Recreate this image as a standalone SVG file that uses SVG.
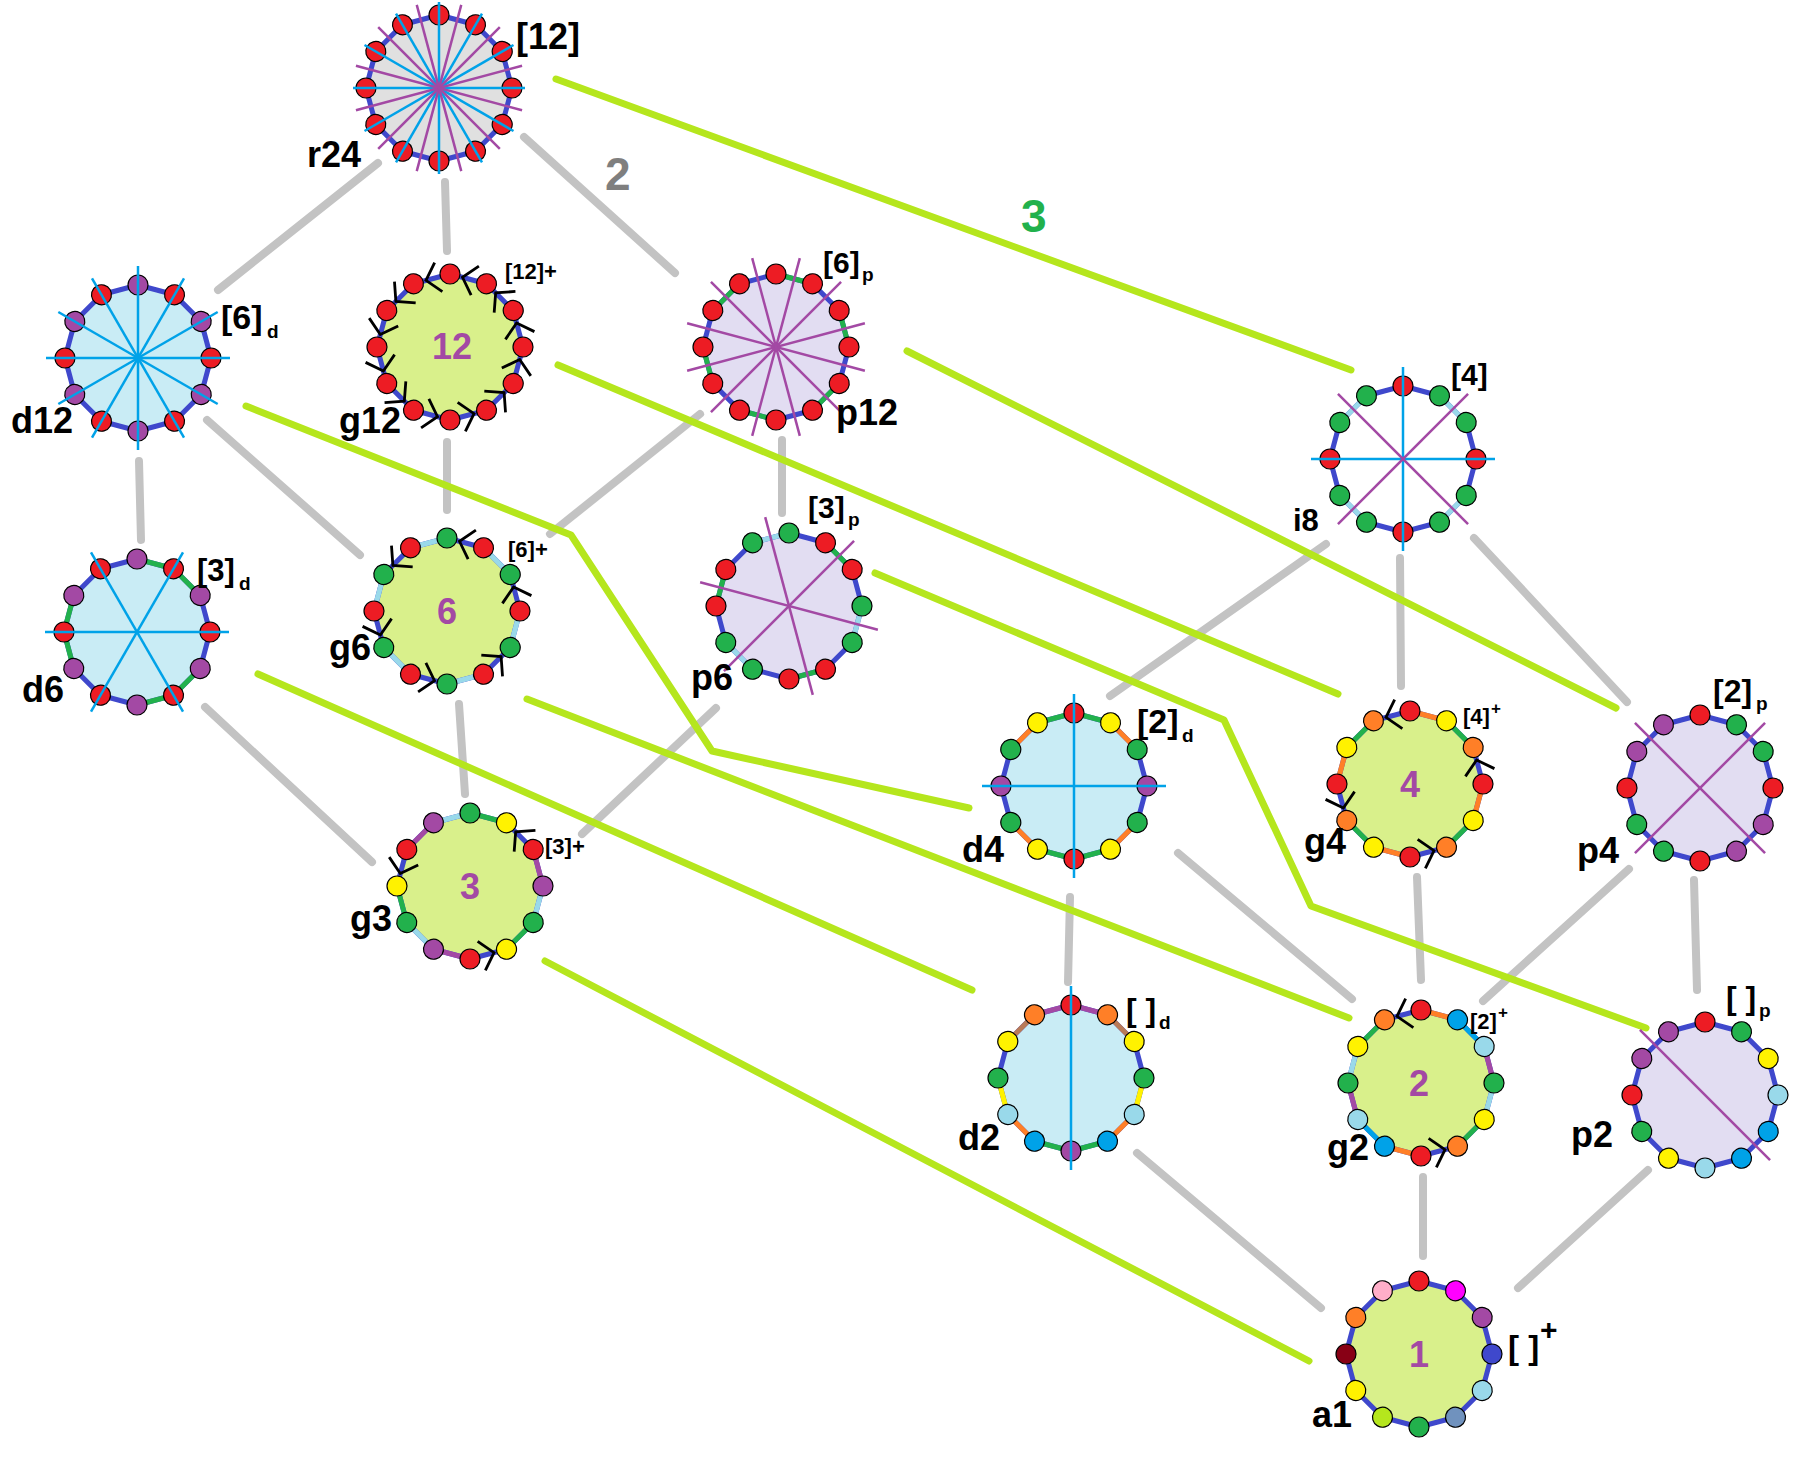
<svg xmlns="http://www.w3.org/2000/svg" width="1796" height="1464" viewBox="0 0 1796 1464">
<style>
text{font-family:"Liberation Sans",Arial,sans-serif;font-weight:bold;fill:#000}
.t{font-size:36px}.tb{font-size:34px}.tc{font-size:31px}.ts{font-size:19px}.tp{font-size:22px}.tq{font-size:17px}
.tn{font-size:36px;fill:#a349a4;text-anchor:middle}
.pl{stroke:#3f48cc;stroke-width:5;stroke-linejoin:round}
.fd{fill:#c9ecf5}.fg{fill:#d9f08b}.fp{fill:#e2ddf2}.fr{fill:#e0e0e0}.fn{fill:none}
.eG{stroke:#22b14c}.eL{stroke:#99d9ea}.eO{stroke:#ff7f27}.eP{stroke:#a349a4}.eY{stroke:#fff200}.eS{stroke:#00a2e8}.eN{stroke:#b97a57}
.dR{fill:#ed1c24}.dP{fill:#a349a4}.dG{fill:#22b14c}.dY{fill:#fff200}.dO{fill:#ff7f27}.dL{fill:#99d9ea}.dS{fill:#00a2e8}.dI{fill:#3f48cc}.dM{fill:#ff00ff}.dT{fill:#7092be}.dK{fill:#b5e61d}.dD{fill:#880015}.dW{fill:#ffaec9}
.mc{stroke:#00a2e8;stroke-width:2.5}.mp{stroke:#a349a4;stroke-width:2.5}
.cg{stroke:#c3c3c3;stroke-width:8;stroke-linecap:round;fill:none}
.cl{stroke:#b5e61d;stroke-width:7;stroke-linecap:round;stroke-linejoin:round;fill:none}
</style>
<defs>
<polygon id="pg" points="0,-73 36.5,-63.22 63.22,-36.5 73,0 63.22,36.5 36.5,63.22 0,73 -36.5,63.22 -63.22,36.5 -73,0 -63.22,-36.5 -36.5,-63.22"/>
<circle id="dt" cx="0" cy="-73" r="10" stroke="#000" stroke-width="1.2"/>
<line id="ed" x1="0" y1="-73" x2="36.5" y2="-63.22" stroke-width="5"/>
<line id="mL" x1="0" y1="-92" x2="0" y2="92"/>
<line id="mS" x1="0" y1="-86" x2="0" y2="86"/>
<path id="ch" d="M28.9,-80.8 L12.5,-69.7 L21.1,-51.8" fill="none" stroke="#000" stroke-width="2.8"/>
<g id="dE"><use href="#dt"/><use href="#dt" transform="rotate(60)"/><use href="#dt" transform="rotate(120)"/><use href="#dt" transform="rotate(180)"/><use href="#dt" transform="rotate(240)"/><use href="#dt" transform="rotate(300)"/></g>
<g id="dO"><use href="#dt" transform="rotate(30)"/><use href="#dt" transform="rotate(90)"/><use href="#dt" transform="rotate(150)"/><use href="#dt" transform="rotate(210)"/><use href="#dt" transform="rotate(270)"/><use href="#dt" transform="rotate(330)"/></g>
<g id="dA"><use href="#dE"/><use href="#dO"/></g>
<g id="eE"><use href="#ed"/><use href="#ed" transform="rotate(60)"/><use href="#ed" transform="rotate(120)"/><use href="#ed" transform="rotate(180)"/><use href="#ed" transform="rotate(240)"/><use href="#ed" transform="rotate(300)"/></g>
<g id="eOd"><use href="#ed" transform="rotate(30)"/><use href="#ed" transform="rotate(90)"/><use href="#ed" transform="rotate(150)"/><use href="#ed" transform="rotate(210)"/><use href="#ed" transform="rotate(270)"/><use href="#ed" transform="rotate(330)"/></g>
<g id="chE"><use href="#ch"/><use href="#ch" transform="rotate(60)"/><use href="#ch" transform="rotate(120)"/><use href="#ch" transform="rotate(180)"/><use href="#ch" transform="rotate(240)"/><use href="#ch" transform="rotate(300)"/></g>
<g id="chO"><use href="#ch" transform="rotate(30)"/><use href="#ch" transform="rotate(90)"/><use href="#ch" transform="rotate(150)"/><use href="#ch" transform="rotate(210)"/><use href="#ch" transform="rotate(270)"/><use href="#ch" transform="rotate(330)"/></g>
<g id="vL"><use href="#mL"/><use href="#mL" transform="rotate(30)"/><use href="#mL" transform="rotate(60)"/><use href="#mL" transform="rotate(90)"/><use href="#mL" transform="rotate(120)"/><use href="#mL" transform="rotate(150)"/></g>
<g id="hL"><use href="#mL" transform="rotate(15)"/><use href="#mL" transform="rotate(45)"/><use href="#mL" transform="rotate(75)"/><use href="#mL" transform="rotate(105)"/><use href="#mL" transform="rotate(135)"/><use href="#mL" transform="rotate(165)"/></g>
</defs>
<rect width="1796" height="1464" fill="#fff"/>

<g id="connectors">
<line class="cg" x1="378" y1="163" x2="218" y2="290"/>
<line class="cg" x1="445" y1="182" x2="447" y2="251"/>
<line class="cg" x1="524" y1="137" x2="675" y2="273"/>
<line class="cg" x1="139" y1="461" x2="141" y2="540"/>
<line class="cg" x1="207" y1="420" x2="360" y2="555"/>
<line class="cg" x1="447" y1="442" x2="447" y2="510"/>
<line class="cg" x1="700" y1="414" x2="550" y2="534"/>
<line class="cg" x1="782" y1="440" x2="782" y2="513"/>
<line class="cg" x1="1326" y1="544" x2="1110" y2="696"/>
<line class="cg" x1="1400" y1="558" x2="1401" y2="686"/>
<line class="cg" x1="1474" y1="538" x2="1627" y2="702"/>
<line class="cg" x1="205" y1="707" x2="372" y2="862"/>
<line class="cg" x1="459" y1="704" x2="465" y2="794"/>
<line class="cg" x1="716" y1="708" x2="582" y2="834"/>
<line class="cg" x1="1070" y1="897" x2="1068" y2="982"/>
<line class="cg" x1="1178" y1="853" x2="1352" y2="999"/>
<line class="cg" x1="1417" y1="877" x2="1421" y2="980"/>
<line class="cg" x1="1629" y1="869" x2="1483" y2="1001"/>
<line class="cg" x1="1694" y1="880" x2="1697" y2="990"/>
<line class="cg" x1="1137" y1="1153" x2="1321" y2="1308"/>
<line class="cg" x1="1423" y1="1177" x2="1423" y2="1256"/>
<line class="cg" x1="1648" y1="1170" x2="1518" y2="1288"/>
<polyline class="cl" points="556,79 1351,370"/>
<polyline class="cl" points="246,406 571,535 712,751 969,808"/>
<polyline class="cl" points="558,365 1338,694"/>
<polyline class="cl" points="907,351 1616,708"/>
<polyline class="cl" points="875,573 1224,720 1311,906 1646,1028"/>
<polyline class="cl" points="258,674 972,990"/>
<polyline class="cl" points="527,699 1349,1018"/>
<polyline class="cl" points="545,961 1309,1361"/>
<text x="605" y="190" style="font-size:46px;fill:#7f7f7f">2</text>
<text x="1021" y="232" style="font-size:46px;fill:#22b14c">3</text>
</g>

<g id="r24">
<g transform="translate(439,88)">
<use href="#pg" class="pl fr"/>
<use href="#dA" class="dR"/>
<use href="#mS" class="mc"/><use href="#mS" class="mc" transform="rotate(30)"/><use href="#mS" class="mc" transform="rotate(60)"/><use href="#mS" class="mc" transform="rotate(90)"/><use href="#mS" class="mc" transform="rotate(120)"/><use href="#mS" class="mc" transform="rotate(150)"/>
<use href="#mS" class="mp" transform="rotate(15)"/><use href="#mS" class="mp" transform="rotate(45)"/><use href="#mS" class="mp" transform="rotate(75)"/><use href="#mS" class="mp" transform="rotate(105)"/><use href="#mS" class="mp" transform="rotate(135)"/><use href="#mS" class="mp" transform="rotate(165)"/>
</g>
<text class="t" x="516" y="49">[12]</text>
<text class="t" x="307" y="167">r24</text>
</g>

<g id="d12">
<g transform="translate(138,358)">
<use href="#pg" class="pl fd"/>
<use href="#dE" class="dP"/><use href="#dO" class="dR"/>
<use href="#vL" class="mc"/>
</g>
<text class="tb" x="221" y="329">[6]</text><text class="ts" x="267" y="338">d</text>
<text class="t" x="11" y="433">d12</text>
</g>

<g id="g12">
<g transform="translate(450,347)">
<use href="#pg" class="pl fg"/>
<use href="#chE"/><use href="#chO"/>
<use href="#dA" class="dR"/>
</g>
<text class="tp" x="505" y="279">[12]+</text>
<text class="tn" x="452" y="359">12</text>
<text class="t" x="339" y="433">g12</text>
</g>

<g id="p12">
<g transform="translate(776,347)">
<use href="#pg" class="pl fp"/>
<use href="#eE" class="eG"/>
<use href="#dA" class="dR"/>
<use href="#hL" class="mp"/>
</g>
<text class="tc" x="823" y="273" style="font-size:30px">[6]</text><text class="ts" x="862" y="281">p</text>
<text class="t" x="836" y="425">p12</text>
</g>

<g id="i8">
<g transform="translate(1403,459)">
<use href="#pg" class="pl fn"/>
<use href="#ed" class="eL" transform="rotate(30)"/><use href="#ed" class="eL" transform="rotate(120)"/><use href="#ed" class="eL" transform="rotate(210)"/><use href="#ed" class="eL" transform="rotate(300)"/>
<use href="#dt" class="dR"/><use href="#dt" class="dR" transform="rotate(90)"/><use href="#dt" class="dR" transform="rotate(180)"/><use href="#dt" class="dR" transform="rotate(270)"/>
<use href="#dt" class="dG" transform="rotate(30)"/><use href="#dt" class="dG" transform="rotate(60)"/><use href="#dt" class="dG" transform="rotate(120)"/><use href="#dt" class="dG" transform="rotate(150)"/><use href="#dt" class="dG" transform="rotate(210)"/><use href="#dt" class="dG" transform="rotate(240)"/><use href="#dt" class="dG" transform="rotate(300)"/><use href="#dt" class="dG" transform="rotate(330)"/>
<use href="#mL" class="mc"/><use href="#mL" class="mc" transform="rotate(90)"/>
<use href="#mL" class="mp" transform="rotate(45)"/><use href="#mL" class="mp" transform="rotate(135)"/>
</g>
<text class="tc" x="1451" y="385" style="font-size:30px">[4]</text>
<text class="t" x="1293" y="531" style="font-size:31px">i8</text>
</g>

<g id="d6">
<g transform="translate(137,632)">
<use href="#pg" class="pl fd"/>
<use href="#ed" class="eG"/><use href="#ed" class="eG" transform="rotate(30)"/><use href="#ed" class="eG" transform="rotate(120)"/><use href="#ed" class="eG" transform="rotate(150)"/><use href="#ed" class="eG" transform="rotate(240)"/><use href="#ed" class="eG" transform="rotate(270)"/>
<use href="#dE" class="dP"/><use href="#dO" class="dR"/>
<use href="#mL" class="mc" transform="rotate(30)"/><use href="#mL" class="mc" transform="rotate(90)"/><use href="#mL" class="mc" transform="rotate(150)"/>
</g>
<text class="tc" x="197" y="581">[3]</text><text class="ts" x="239" y="590">d</text>
<text class="t" x="22" y="702">d6</text>
</g>

<g id="g6">
<g transform="translate(447,611)">
<use href="#pg" class="pl fg"/>
<use href="#eOd" class="eL"/>
<use href="#chE"/>
<use href="#dE" class="dG"/><use href="#dO" class="dR"/>
</g>
<text class="tp" x="508" y="557">[6]+</text>
<text class="tn" x="447" y="624">6</text>
<text class="t" x="329" y="660">g6</text>
</g>

<g id="p6">
<g transform="translate(789,606)">
<use href="#pg" class="pl fp"/>
<use href="#ed" class="eG" transform="rotate(30)"/><use href="#ed" class="eG" transform="rotate(150)"/><use href="#ed" class="eG" transform="rotate(270)"/>
<use href="#ed" class="eL" transform="rotate(90)"/><use href="#ed" class="eL" transform="rotate(210)"/><use href="#ed" class="eL" transform="rotate(330)"/>
<use href="#dt" class="dG"/><use href="#dt" class="dG" transform="rotate(90)"/><use href="#dt" class="dG" transform="rotate(120)"/><use href="#dt" class="dG" transform="rotate(210)"/><use href="#dt" class="dG" transform="rotate(240)"/><use href="#dt" class="dG" transform="rotate(330)"/>
<use href="#dt" class="dR" transform="rotate(30)"/><use href="#dt" class="dR" transform="rotate(60)"/><use href="#dt" class="dR" transform="rotate(150)"/><use href="#dt" class="dR" transform="rotate(180)"/><use href="#dt" class="dR" transform="rotate(270)"/><use href="#dt" class="dR" transform="rotate(300)"/>
<use href="#mL" class="mp" transform="rotate(-15)"/><use href="#mL" class="mp" transform="rotate(45)"/><use href="#mL" class="mp" transform="rotate(105)"/>
</g>
<text class="tc" x="808" y="518" style="font-size:30px">[3]</text><text class="ts" x="848" y="526">p</text>
<text class="t" x="691" y="690">p6</text>
</g>

<g id="g3">
<g transform="translate(470,886)">
<use href="#pg" class="pl fg"/>
<use href="#ed" class="eG"/><use href="#ed" class="eG" transform="rotate(120)"/><use href="#ed" class="eG" transform="rotate(240)"/>
<use href="#ed" class="eP" transform="rotate(60)"/><use href="#ed" class="eP" transform="rotate(180)"/><use href="#ed" class="eP" transform="rotate(300)"/>
<use href="#ed" class="eL" transform="rotate(90)"/><use href="#ed" class="eL" transform="rotate(210)"/><use href="#ed" class="eL" transform="rotate(330)"/>
<use href="#ch" transform="rotate(30)"/><use href="#ch" transform="rotate(150)"/><use href="#ch" transform="rotate(270)"/>
<use href="#dt" class="dG"/><use href="#dt" class="dG" transform="rotate(120)"/><use href="#dt" class="dG" transform="rotate(240)"/>
<use href="#dt" class="dY" transform="rotate(30)"/><use href="#dt" class="dY" transform="rotate(150)"/><use href="#dt" class="dY" transform="rotate(270)"/>
<use href="#dt" class="dR" transform="rotate(60)"/><use href="#dt" class="dR" transform="rotate(180)"/><use href="#dt" class="dR" transform="rotate(300)"/>
<use href="#dt" class="dP" transform="rotate(90)"/><use href="#dt" class="dP" transform="rotate(210)"/><use href="#dt" class="dP" transform="rotate(330)"/>
</g>
<text class="tp" x="545" y="854">[3]+</text>
<text class="tn" x="470" y="899">3</text>
<text class="t" x="350" y="931">g3</text>
</g>

<g id="d4">
<g transform="translate(1074,786)">
<use href="#pg" class="pl fd"/>
<use href="#ed" class="eG"/><use href="#ed" class="eG" transform="rotate(150)"/><use href="#ed" class="eG" transform="rotate(180)"/><use href="#ed" class="eG" transform="rotate(330)"/>
<use href="#ed" class="eO" transform="rotate(30)"/><use href="#ed" class="eO" transform="rotate(120)"/><use href="#ed" class="eO" transform="rotate(210)"/><use href="#ed" class="eO" transform="rotate(300)"/>
<use href="#dt" class="dR"/><use href="#dt" class="dR" transform="rotate(180)"/>
<use href="#dt" class="dY" transform="rotate(30)"/><use href="#dt" class="dY" transform="rotate(150)"/><use href="#dt" class="dY" transform="rotate(210)"/><use href="#dt" class="dY" transform="rotate(330)"/>
<use href="#dt" class="dG" transform="rotate(60)"/><use href="#dt" class="dG" transform="rotate(120)"/><use href="#dt" class="dG" transform="rotate(240)"/><use href="#dt" class="dG" transform="rotate(300)"/>
<use href="#dt" class="dP" transform="rotate(90)"/><use href="#dt" class="dP" transform="rotate(270)"/>
<use href="#mL" class="mc"/><use href="#mL" class="mc" transform="rotate(90)"/>
</g>
<text class="tb" x="1137" y="733">[2]</text><text class="ts" x="1182" y="742">d</text>
<text class="t" x="962" y="862">d4</text>
</g>

<g id="g4">
<g transform="translate(1410,784)">
<use href="#pg" class="pl fg"/>
<use href="#ed" class="eO"/><use href="#ed" class="eO" transform="rotate(90)"/><use href="#ed" class="eO" transform="rotate(180)"/><use href="#ed" class="eO" transform="rotate(270)"/>
<use href="#ed" class="eG" transform="rotate(30)"/><use href="#ed" class="eG" transform="rotate(120)"/><use href="#ed" class="eG" transform="rotate(210)"/><use href="#ed" class="eG" transform="rotate(300)"/>
<use href="#ch" transform="rotate(60)"/><use href="#ch" transform="rotate(150)"/><use href="#ch" transform="rotate(240)"/><use href="#ch" transform="rotate(330)"/>
<use href="#dt" class="dR"/><use href="#dt" class="dR" transform="rotate(90)"/><use href="#dt" class="dR" transform="rotate(180)"/><use href="#dt" class="dR" transform="rotate(270)"/>
<use href="#dt" class="dY" transform="rotate(30)"/><use href="#dt" class="dY" transform="rotate(120)"/><use href="#dt" class="dY" transform="rotate(210)"/><use href="#dt" class="dY" transform="rotate(300)"/>
<use href="#dt" class="dO" transform="rotate(60)"/><use href="#dt" class="dO" transform="rotate(150)"/><use href="#dt" class="dO" transform="rotate(240)"/><use href="#dt" class="dO" transform="rotate(330)"/>
</g>
<text class="tp" x="1463" y="724">[4]</text><text class="tq" x="1491" y="714">+</text>
<text class="tn" x="1410" y="797">4</text>
<text class="t" x="1304" y="854">g4</text>
</g>

<g id="p4">
<g transform="translate(1700,788)">
<use href="#pg" class="pl fp"/>
<use href="#dt" class="dR"/><use href="#dt" class="dR" transform="rotate(90)"/><use href="#dt" class="dR" transform="rotate(180)"/><use href="#dt" class="dR" transform="rotate(270)"/>
<use href="#dt" class="dG" transform="rotate(30)"/><use href="#dt" class="dG" transform="rotate(60)"/><use href="#dt" class="dG" transform="rotate(210)"/><use href="#dt" class="dG" transform="rotate(240)"/>
<use href="#dt" class="dP" transform="rotate(120)"/><use href="#dt" class="dP" transform="rotate(150)"/><use href="#dt" class="dP" transform="rotate(300)"/><use href="#dt" class="dP" transform="rotate(330)"/>
<use href="#mL" class="mp" transform="rotate(45)"/><use href="#mL" class="mp" transform="rotate(135)"/>
</g>
<text class="tc" x="1713" y="702" style="font-size:32px">[2]</text><text class="ts" x="1756" y="710">p</text>
<text class="t" x="1577" y="863">p4</text>
</g>

<g id="d2">
<g transform="translate(1071,1078)">
<use href="#pg" class="pl fd"/>
<use href="#ed" class="eP"/><use href="#ed" class="eP" transform="rotate(330)"/>
<use href="#ed" class="eN" transform="rotate(30)"/><use href="#ed" class="eN" transform="rotate(300)"/>
<use href="#ed" class="eY" transform="rotate(90)"/><use href="#ed" class="eY" transform="rotate(240)"/>
<use href="#ed" class="eO" transform="rotate(120)"/><use href="#ed" class="eO" transform="rotate(210)"/>
<use href="#ed" class="eG" transform="rotate(150)"/><use href="#ed" class="eG" transform="rotate(180)"/>
<use href="#dt" class="dR"/>
<use href="#dt" class="dO" transform="rotate(30)"/><use href="#dt" class="dO" transform="rotate(330)"/>
<use href="#dt" class="dY" transform="rotate(60)"/><use href="#dt" class="dY" transform="rotate(300)"/>
<use href="#dt" class="dG" transform="rotate(90)"/><use href="#dt" class="dG" transform="rotate(270)"/>
<use href="#dt" class="dL" transform="rotate(120)"/><use href="#dt" class="dL" transform="rotate(240)"/>
<use href="#dt" class="dS" transform="rotate(150)"/><use href="#dt" class="dS" transform="rotate(210)"/>
<use href="#dt" class="dP" transform="rotate(180)"/>
<use href="#mL" class="mc"/>
</g>
<text class="tc" x="1126" y="1021" style="font-size:32px">[ ]</text><text class="ts" x="1159" y="1029">d</text>
<text class="t" x="958" y="1150">d2</text>
</g>

<g id="g2">
<g transform="translate(1421,1083)">
<use href="#pg" class="pl fg"/>
<use href="#ed" class="eO"/><use href="#ed" class="eO" transform="rotate(180)"/>
<use href="#ed" class="eS" transform="rotate(30)"/><use href="#ed" class="eS" transform="rotate(210)"/>
<use href="#ed" class="eP" transform="rotate(60)"/><use href="#ed" class="eP" transform="rotate(240)"/>
<use href="#ed" class="eL" transform="rotate(90)"/><use href="#ed" class="eL" transform="rotate(270)"/>
<use href="#ed" class="eG" transform="rotate(120)"/><use href="#ed" class="eG" transform="rotate(300)"/>
<use href="#ch" transform="rotate(150)"/><use href="#ch" transform="rotate(330)"/>
<use href="#dt" class="dR"/><use href="#dt" class="dR" transform="rotate(180)"/>
<use href="#dt" class="dS" transform="rotate(30)"/><use href="#dt" class="dS" transform="rotate(210)"/>
<use href="#dt" class="dL" transform="rotate(60)"/><use href="#dt" class="dL" transform="rotate(240)"/>
<use href="#dt" class="dG" transform="rotate(90)"/><use href="#dt" class="dG" transform="rotate(270)"/>
<use href="#dt" class="dY" transform="rotate(120)"/><use href="#dt" class="dY" transform="rotate(300)"/>
<use href="#dt" class="dO" transform="rotate(150)"/><use href="#dt" class="dO" transform="rotate(330)"/>
</g>
<text class="tp" x="1470" y="1029">[2]</text><text class="tq" x="1498" y="1018">+</text>
<text class="tn" x="1419" y="1096">2</text>
<text class="t" x="1327" y="1160">g2</text>
</g>

<g id="p2">
<g transform="translate(1705,1095)">
<use href="#pg" class="pl fp"/>
<use href="#dt" class="dR"/><use href="#dt" class="dR" transform="rotate(270)"/>
<use href="#dt" class="dG" transform="rotate(30)"/><use href="#dt" class="dG" transform="rotate(240)"/>
<use href="#dt" class="dY" transform="rotate(60)"/><use href="#dt" class="dY" transform="rotate(210)"/>
<use href="#dt" class="dL" transform="rotate(90)"/><use href="#dt" class="dL" transform="rotate(180)"/>
<use href="#dt" class="dS" transform="rotate(120)"/><use href="#dt" class="dS" transform="rotate(150)"/>
<use href="#dt" class="dP" transform="rotate(300)"/><use href="#dt" class="dP" transform="rotate(330)"/>
<use href="#mL" class="mp" transform="rotate(135)"/>
</g>
<text class="tc" x="1726" y="1009" style="font-size:32px">[ ]</text><text class="ts" x="1759" y="1017">p</text>
<text class="t" x="1571" y="1147">p2</text>
</g>

<g id="a1">
<g transform="translate(1419,1354)">
<use href="#pg" class="pl fg"/>
<use href="#dt" class="dR"/>
<use href="#dt" class="dM" transform="rotate(30)"/>
<use href="#dt" class="dP" transform="rotate(60)"/>
<use href="#dt" class="dI" transform="rotate(90)"/>
<use href="#dt" class="dL" transform="rotate(120)"/>
<use href="#dt" class="dT" transform="rotate(150)"/>
<use href="#dt" class="dG" transform="rotate(180)"/>
<use href="#dt" class="dK" transform="rotate(210)"/>
<use href="#dt" class="dY" transform="rotate(240)"/>
<use href="#dt" class="dD" transform="rotate(270)"/>
<use href="#dt" class="dO" transform="rotate(300)"/>
<use href="#dt" class="dW" transform="rotate(330)"/>
</g>
<text style="font-size:33px" x="1508" y="1359">[ ]</text><text style="font-size:30px" x="1540" y="1340">+</text>
<text class="tn" x="1419" y="1367">1</text>
<text class="t" x="1312" y="1427">a1</text>
</g>
</svg>
